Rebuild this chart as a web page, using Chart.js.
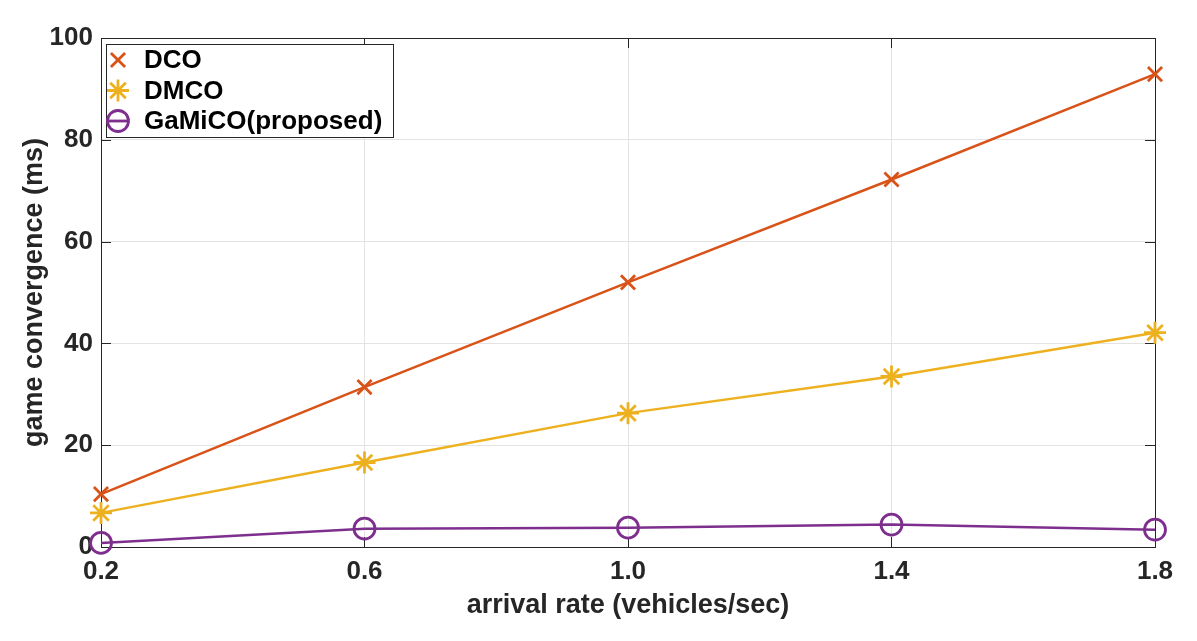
<!DOCTYPE html>
<html>
<head>
<meta charset="utf-8">
<script src="https://cdn.jsdelivr.net/npm/chart.js@4.4.1/dist/chart.umd.min.js"></script>
<style>
html,body{margin:0;padding:0;background:#fff;}
#wrap{width:1197px;height:641px;position:relative;}
</style>
</head>
<body>
<div id="wrap"><canvas id="c" width="1197" height="641"></canvas></div>
<script>
const arrivalRates = [0.2, 0.6, 1.0, 1.4, 1.8];
const dcoValues = [10.4, 31.4, 52.0, 72.2, 92.9];
const dmcoValues = [6.7, 16.6, 26.3, 33.5, 42.1];
const gamicoValues = [0.8, 3.6, 3.8, 4.4, 3.4];
const xTickLabels = ['0.2', '0.6', '1.0', '1.4', '1.8'];
const yTickValues = [0, 20, 40, 60, 80, 100];
const seriesNames = ['DCO', 'DMCO', 'GaMiCO(proposed)'];

const FONT = '"Liberation Sans", Arial, Helvetica, sans-serif';
const AXIS = '#262626';

function toPoints(vals){ return arrivalRates.map((x,i)=>({x:x, y:vals[i]})); }

const frame = {
  id:'frame',
  beforeDatasetsDraw(chart){
    const {ctx, chartArea:a, scales} = chart;
    ctx.save();
    ctx.strokeStyle = AXIS;
    ctx.lineWidth = 1;
    ctx.strokeRect(a.left+0.5, a.top+0.5, a.right-a.left, a.bottom-a.top);
    ctx.beginPath();
    arrivalRates.forEach(v=>{
      const x = Math.round(scales.x.getPixelForValue(v))+0.5;
      ctx.moveTo(x, a.bottom); ctx.lineTo(x, a.bottom-10);
      ctx.moveTo(x, a.top); ctx.lineTo(x, a.top+10);
    });
    yTickValues.forEach(v=>{
      const y = Math.round(scales.y.getPixelForValue(v))+0.5;
      ctx.moveTo(a.left, y); ctx.lineTo(a.left+10, y);
      ctx.moveTo(a.right, y); ctx.lineTo(a.right-10, y);
    });
    ctx.stroke();
    ctx.restore();
  },
  afterDraw(chart){
    const {ctx, chartArea:a} = chart;
    ctx.save();
    const bx = a.left+5, by = a.top+6, bw = 287, bh = 93;
    ctx.fillStyle = '#fff';
    ctx.fillRect(bx, by, bw, bh);
    ctx.strokeStyle = AXIS;
    ctx.lineWidth = 1;
    ctx.strokeRect(bx+0.5, by+0.5, bw, bh);
    chart.data.datasets.forEach((ds,i)=>{
      const cy = by + 16 + i*30.5;
      const mx = bx + 12;
      ctx.strokeStyle = ds.borderColor;
      ctx.fillStyle = 'rgba(0,0,0,0)';
      ctx.lineWidth = ds.pointBorderWidth;
      if (ds.pointStyle === 'circle') {
        ctx.beginPath(); ctx.moveTo(mx-11, cy); ctx.lineTo(mx+11, cy); ctx.stroke();
      }
      Chart.helpers.drawPoint(ctx, {pointStyle: ds.pointStyle, radius: ds.pointRadius, borderWidth: ds.pointBorderWidth}, mx, cy);
      ctx.fillStyle = '#000';
      ctx.font = 'bold 26px ' + FONT;
      ctx.textBaseline = 'middle';
      ctx.textAlign = 'left';
      ctx.fillText(ds.label, bx + 38, cy + 1);
    });
    ctx.restore();
  }
};

const chart = new Chart(document.getElementById('c'), {
  type: 'line',
  data: {
    datasets: [
      {label: seriesNames[0], data: toPoints(dcoValues), borderColor:'#D95319', backgroundColor:'#D95319',
       borderWidth:2.5, pointStyle:'crossRot', pointRadius:10, pointBorderWidth:2.8, pointBorderColor:'#D95319', clip:false},
      {label: seriesNames[1], data: toPoints(dmcoValues), borderColor:'#EDB120', backgroundColor:'#EDB120',
       borderWidth:2.5, pointStyle:'star', pointRadius:11, pointBorderWidth:2.8, pointBorderColor:'#EDB120', clip:false},
      {label: seriesNames[2], data: toPoints(gamicoValues), borderColor:'#7E2F8E', backgroundColor:'rgba(0,0,0,0)',
       borderWidth:2.5, pointStyle:'circle', pointRadius:10.5, pointBorderWidth:2.8, pointBorderColor:'#7E2F8E', pointBackgroundColor:'rgba(0,0,0,0)', clip:false}
    ]
  },
  options: {
    responsive:false,
    animation:false,
    events:[],
    layout:{padding:{top:38, right:42, left:0, bottom:0}},
    plugins:{legend:{display:false}, tooltip:{enabled:false}},
    elements:{line:{tension:0}},
    scales:{
      x:{
        type:'linear', min:0.2, max:1.8,
        afterBuildTicks(s){ s.ticks = arrivalRates.map(v=>({value:v})); },
        afterFit(s){ s.height = 94; },
        grid:{color:'#e3e3e3', lineWidth:1, drawTicks:false},
        border:{display:false},
        ticks:{padding:9, color:'#262626', font:{family:FONT, size:26, weight:'bold'}, maxRotation:0,
          callback:(v,i)=>xTickLabels[i]},
        title:{display:true, text:'arrival rate (vehicles/sec)', color:'#262626', font:{family:FONT, size:27, weight:'bold'}, padding:{top:0, bottom:19}}
      },
      y:{
        min:0, max:100,
        afterBuildTicks(s){ s.ticks = yTickValues.map(v=>({value:v})); },
        afterFit(s){ s.width = 101; },
        grid:{color:'#e3e3e3', lineWidth:1, drawTicks:false},
        border:{display:false},
        ticks:{padding:8, color:'#262626', font:{family:FONT, size:26, weight:'bold'}},
        title:{display:true, text:'game convergence (ms)', color:'#262626', font:{family:FONT, size:27, weight:'bold'}, padding:{top:18, bottom:0}}
      }
    }
  },
  plugins:[frame]
});
</script>
</body>
</html>
